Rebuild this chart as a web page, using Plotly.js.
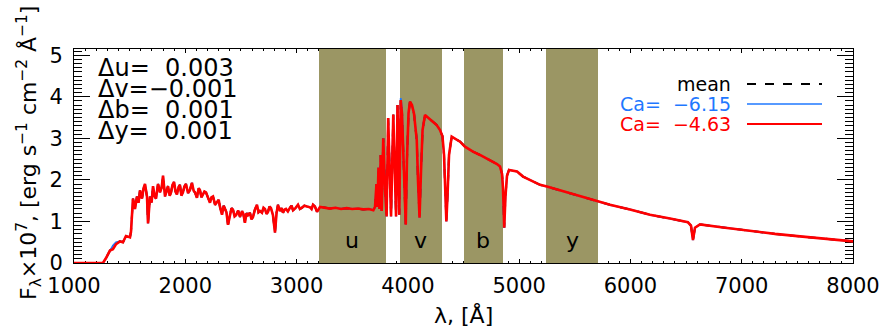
<!DOCTYPE html>
<html><head><meta charset="utf-8">
<script src="https://cdn.plot.ly/plotly-3.0.1.min.js"></script>
<style>html,body{margin:0;padding:0;background:#fff;} #chart{width:884px;height:329px;}</style>
</head><body><div id="chart"></div>
<script>
const wavelength = [1000,1100,1200,1260,1288,1323,1350,1377,1413,1440,1467,1503,1512,1530,1548,1566,1580,1593,1611,1625,1638,1656,1665,1683,1697,1710,1725,1737,1755,1773,1788,1800,1818,1832,1845,1860,1872,1885,1899,1912,1925,1940,1952,1965,1979,1992,2006,2025,2042,2060,2075,2087,2105,2120,2132,2145,2159,2172,2186,2205,2222,2235,2249,2268,2285,2300,2312,2330,2345,2357,2370,2384,2402,2415,2429,2443,2456,2475,2492,2510,2522,2536,2550,2563,2581,2595,2608,2625,2644,2658,2671,2689,2703,2716,2730,2743,2757,2770,2788,2806,2820,2833,2851,2865,2878,2891,2905,2922,2941,2955,2968,2990,3013,3030,3049,3070,3094,3121,3135,3148,3165,3184,3211,3250,3300,3350,3400,3450,3500,3550,3600,3650,3690,
3705,3718,3727,3736,3745,3756,3765,3779,3795,3809,3823,3849,3869,3894,3907,3923,3936,3947,3961,3981,3992,4006,4019,4037,4055,4080,4091,4105,4118,4132,4154,4181,4217,4259,4289,4311,4325,4337,4346,4356,4370,4394,4424,4469,4513,4585,4648,4738,4801,4828,4846,4855,4866,4877,4891,4909,4936,4981,5035,5098,5188,5250,5340,5457,5592,5700,5816,5996,6176,6356,6517,6544,6562,6580,6625,6850,7074,7299,7524,7748,8000];
const fluxRed = [0,0,0,0,0.12,0.3,0.33,0.45,0.52,0.5,0.65,0.62,0.75,1.55,1.3,1.6,1.45,1.75,1.55,1.8,1.9,1.6,0.95,1.6,1.45,1.85,1.6,1.55,1.9,1.7,1.82,2.1,1.6,1.75,1.85,1.62,1.7,1.88,1.95,1.72,1.65,1.83,1.88,1.62,1.7,1.84,1.9,1.68,1.76,1.93,1.74,1.7,1.57,1.8,1.75,1.58,1.64,1.72,1.7,1.55,1.45,1.58,1.6,1.4,1.47,1.52,1.35,1.16,1.38,1.3,1.22,0.92,1.2,1.32,1.28,1.12,1.15,1.26,1.11,1.25,1.18,0.97,1.2,1.15,1.21,1.05,1.1,1.28,1.4,1.22,1.25,1.21,1.33,1.3,1.18,1.23,1.36,1.32,1.15,0.73,1.2,1.4,1.25,1.32,1.21,1.28,1.3,1.24,1.33,1.38,1.27,1.32,1.4,1.3,1.33,1.38,1.36,1.34,1.3,1.4,1.36,1.23,1.35,1.34,1.31,1.33,1.30,1.32,1.30,1.31,1.29,1.30,1.27,
1.35,1.9,1.35,2.3,1.3,2.6,1.25,3.0,1.8,1.12,3.49,1.12,3.57,1.12,3.8,1.16,3.92,3.6,2.5,0.92,2.5,3.6,3.88,3.8,3.6,2.96,2.0,1.09,2.2,3.2,3.56,3.5,3.4,3.32,3.2,3.05,2.6,1.5,1.0,1.6,2.6,3.04,3.0,2.92,2.8,2.68,2.6,2.48,2.38,2.32,2.15,1.8,0.85,1.6,2.1,2.24,2.23,2.2,2.08,2.0,1.88,1.84,1.77,1.68,1.57,1.48,1.4,1.29,1.16,1.07,0.98,0.9,0.55,0.85,0.93,0.85,0.77,0.7,0.64,0.58,0.52];
const fluxBlue = [0,0,0,0,0.12,0.3,0.42,0.5,0.52,0.5,0.65,0.62,0.75,1.55,1.3,1.6,1.45,1.75,1.55,1.8,1.9,1.6,0.95,1.6,1.45,1.85,1.6,1.55,1.9,1.7,1.82,2.1,1.6,1.75,1.85,1.62,1.7,1.88,1.95,1.72,1.65,1.83,1.88,1.62,1.7,1.84,1.9,1.68,1.76,1.93,1.74,1.7,1.57,1.8,1.75,1.58,1.64,1.72,1.7,1.55,1.45,1.58,1.6,1.4,1.47,1.52,1.35,1.16,1.38,1.3,1.22,0.92,1.2,1.32,1.28,1.12,1.15,1.26,1.11,1.25,1.18,0.97,1.2,1.15,1.21,1.05,1.1,1.28,1.4,1.22,1.25,1.21,1.33,1.3,1.18,1.23,1.36,1.32,1.15,0.73,1.2,1.4,1.25,1.32,1.21,1.28,1.3,1.24,1.33,1.38,1.27,1.32,1.4,1.3,1.33,1.38,1.36,1.34,1.3,1.4,1.36,1.23,1.35,1.34,1.31,1.33,1.30,1.32,1.30,1.31,1.29,1.30,1.27,
1.35,1.9,1.35,2.3,1.3,2.6,1.25,3.0,1.8,1.12,3.49,1.12,3.57,1.12,3.8,1.16,3.97,3.72,2.5,0.92,2.5,3.6,3.88,3.8,3.6,2.96,2.0,1.09,2.2,3.2,3.56,3.5,3.4,3.32,3.2,3.05,2.6,1.5,1.0,1.6,2.6,3.04,3.0,2.92,2.8,2.68,2.6,2.48,2.38,2.32,2.15,1.8,0.85,1.6,2.1,2.24,2.23,2.2,2.08,2.0,1.88,1.84,1.77,1.68,1.57,1.48,1.4,1.29,1.16,1.07,0.98,0.9,0.55,0.85,0.93,0.85,0.77,0.7,0.64,0.58,0.52];
const fluxMean = [0,0,0,0,0.12,0.3,0.375,0.475,0.52,0.5,0.65,0.62,0.75,1.55,1.3,1.6,1.45,1.75,1.55,1.8,1.9,1.6,0.95,1.6,1.45,1.85,1.6,1.55,1.9,1.7,1.82,2.1,1.6,1.75,1.85,1.62,1.7,1.88,1.95,1.72,1.65,1.83,1.88,1.62,1.7,1.84,1.9,1.68,1.76,1.93,1.74,1.7,1.57,1.8,1.75,1.58,1.64,1.72,1.7,1.55,1.45,1.58,1.6,1.4,1.47,1.52,1.35,1.16,1.38,1.3,1.22,0.92,1.2,1.32,1.28,1.12,1.15,1.26,1.11,1.25,1.18,0.97,1.2,1.15,1.21,1.05,1.1,1.28,1.4,1.22,1.25,1.21,1.33,1.3,1.18,1.23,1.36,1.32,1.15,0.73,1.2,1.4,1.25,1.32,1.21,1.28,1.3,1.24,1.33,1.38,1.27,1.32,1.4,1.3,1.33,1.38,1.36,1.34,1.3,1.4,1.36,1.23,1.35,1.34,1.31,1.33,1.30,1.32,1.30,1.31,1.29,1.30,1.27,
1.35,1.9,1.35,2.3,1.3,2.6,1.25,3.0,1.8,1.12,3.49,1.12,3.57,1.12,3.8,1.16,3.94,3.66,2.5,0.92,2.5,3.6,3.88,3.8,3.6,2.96,2.0,1.09,2.2,3.2,3.56,3.5,3.4,3.32,3.2,3.05,2.6,1.5,1.0,1.6,2.6,3.04,3.0,2.92,2.8,2.68,2.6,2.48,2.38,2.32,2.15,1.8,0.85,1.6,2.1,2.24,2.23,2.2,2.08,2.0,1.88,1.84,1.77,1.68,1.57,1.48,1.4,1.29,1.16,1.07,0.98,0.9,0.55,0.85,0.93,0.85,0.77,0.7,0.64,0.58,0.52];

const bandNames = ['u','v','b','y'];
const bandLo = [3205, 3925, 4500, 5245];
const bandHi = [3800, 4305, 4858, 5705];

const deltaLabels = ['Δu=\u00a0\u00a00.003', 'Δv=−0.001', 'Δb=\u00a0\u00a00.001', 'Δy=\u00a0\u00a00.001'];
const legendLabels = ['mean', 'Ca=\u00a0\u00a0−6.15', 'Ca=\u00a0\u00a0−4.63'];
const legendColors = ['#000000', '#1f78ff', '#ff0000'];
const xTickVals = [1000,2000,3000,4000,5000,6000,7000,8000];
const yTickVals = [0,1,2,3,4,5];

const FONT = 'DejaVu Sans';
const olive = '#9b9664';

const bandCenters = bandLo.map((lo,i)=>(lo+bandHi[i])/2);
const bandWidths = bandLo.map((lo,i)=>bandHi[i]-lo);

const traces = [
  {type:'bar', x:bandCenters, y:bandCenters.map(()=>10), width:bandWidths, base:0,
   marker:{color:olive, line:{width:0}}, hoverinfo:'skip', showlegend:false},
  {type:'scatter', mode:'lines', x:wavelength, y:fluxMean, line:{color:'#000', width:2, dash:'dash'}, showlegend:false},
  {type:'scatter', mode:'lines', x:wavelength, y:fluxBlue, line:{color:legendColors[1], width:1.8}, showlegend:false},
  {type:'scatter', mode:'lines', x:wavelength, y:fluxRed, line:{color:legendColors[2], width:2.6}, showlegend:false}
];

const L=74, T=49, W=779, H=214;
const px = v => (v-L)/W;
const py = v => (T+H-v)/H;

const annotations = [];
deltaLabels.forEach((t,i)=>{
  annotations.push({xref:'paper', yref:'paper', x:px(96), y:py(68+21*i), xanchor:'left', yanchor:'middle',
    text:t, showarrow:false, font:{family:FONT, size:24, color:'#000'}});
});
legendLabels.forEach((t,i)=>{
  annotations.push({xref:'paper', yref:'paper', x:px(733), y:py(84+20*i), xanchor:'right', yanchor:'middle',
    text:t, showarrow:false, font:{family:FONT, size:19, color:legendColors[i]}});
});
bandNames.forEach((t,i)=>{
  annotations.push({xref:'x', yref:'y', x:bandCenters[i], y:0.55, xanchor:'center', yanchor:'middle',
    text:t, showarrow:false, font:{family:FONT, size:22, color:'#000'}});
});
annotations.push({xref:'paper', yref:'paper', x:0.5, y:py(314.5), xanchor:'center', yanchor:'middle',
  text:'λ, [Å]', showarrow:false, font:{family:FONT, size:22, color:'#000'}});
annotations.push({xref:'paper', yref:'paper', x:px(29), y:py(153), xanchor:'center', yanchor:'middle', textangle:-90,
  text:'F<sub>λ</sub>×10<sup>7</sup>, [erg s<sup>−1</sup> cm<sup>−2</sup> Å<sup>−1</sup>]', showarrow:false,
  font:{family:FONT, size:22, color:'#000'}});

const shapes = [
  {type:'line', xref:'paper', yref:'paper', x0:px(747), x1:px(822), y0:py(84), y1:py(84), line:{color:'#000', width:2, dash:'dash'}},
  {type:'line', xref:'paper', yref:'paper', x0:px(747), x1:px(822), y0:py(104), y1:py(104), line:{color:legendColors[1], width:1.5}},
  {type:'line', xref:'paper', yref:'paper', x0:px(747), x1:px(822), y0:py(124), y1:py(124), line:{color:legendColors[2], width:2.2}}
];

const axisCommon = {showline:true, linecolor:'#000', linewidth:1, mirror:'ticks', ticks:'inside', tickcolor:'#000', tickwidth:1,
  showgrid:false, zeroline:false, layer:'below traces', tickfont:{family:FONT, size:21, color:'#000'}};

const layout = {
  width:884, height:329, margin:{l:L, r:884-L-W, t:T, b:329-T-H},
  paper_bgcolor:'#fff', plot_bgcolor:'#fff', showlegend:false, bargap:0,
  xaxis:Object.assign({}, axisCommon, {range:[1000,8000], tickvals:xTickVals, ticktext:xTickVals.map(String), ticklen:4,
    minor:{dtick:100, tick0:0, ticklen:2, tickcolor:'#000', ticks:'inside', showgrid:false}, ticklabelstandoff:4}),
  yaxis:Object.assign({}, axisCommon, {range:[0,5.15], tickvals:yTickVals, ticktext:yTickVals.map(String), ticklen:16,
    minor:{dtick:0.1, tick0:0, ticklen:8, tickcolor:'#000', ticks:'inside', showgrid:false}, ticklabelstandoff:6}),
  annotations, shapes
};

Plotly.newPlot('chart', traces, layout, {staticPlot:true, displayModeBar:false});
</script></body></html>
